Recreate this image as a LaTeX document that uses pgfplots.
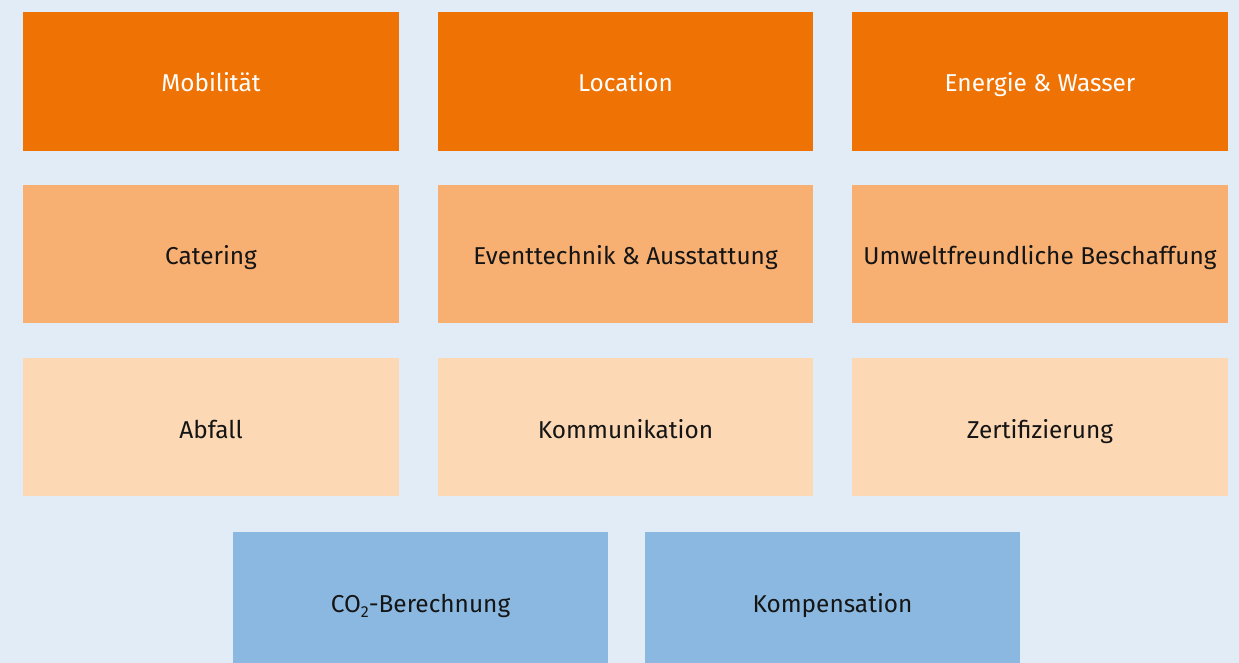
\documentclass[border=0pt]{standalone}
\usepackage{fontspec}
\setmainfont{Fira Sans}
\usepackage{pgfplots}
\pgfplotsset{compat=1.18}
\definecolor{bgblue}{HTML}{E2ECF7}
\definecolor{orA}{HTML}{EF7304}
\definecolor{orB}{HTML}{F7AF72}
\definecolor{orC}{HTML}{FCD8B5}
\definecolor{blA}{HTML}{8BB8E0}
\definecolor{txt}{HTML}{151515}

\begin{document}
\begin{tikzpicture}
\begin{axis}[
  scale only axis, width=619.5pt, height=331.5pt,
  xmin=0, xmax=1239, ymin=0, ymax=663, y dir=reverse,
  enlargelimits=false, hide axis, clip=true,
  every axis plot/.append style={draw=none},
]
% background
\addplot[fill=bgblue] coordinates {(0,0) (1239,0) (1239,663) (0,663)} -- cycle;
% row 1
\addplot[fill=orA] coordinates {(23,12) (399,12) (399,151) (23,151)} -- cycle;
\addplot[fill=orA] coordinates {(438,12) (813,12) (813,151) (438,151)} -- cycle;
\addplot[fill=orA] coordinates {(852,12) (1228,12) (1228,151) (852,151)} -- cycle;
% row 2
\addplot[fill=orB] coordinates {(23,185) (399,185) (399,323) (23,323)} -- cycle;
\addplot[fill=orB] coordinates {(438,185) (813,185) (813,323) (438,323)} -- cycle;
\addplot[fill=orB] coordinates {(852,185) (1228,185) (1228,323) (852,323)} -- cycle;
% row 3
\addplot[fill=orC] coordinates {(23,358) (399,358) (399,496) (23,496)} -- cycle;
\addplot[fill=orC] coordinates {(438,358) (813,358) (813,496) (438,496)} -- cycle;
\addplot[fill=orC] coordinates {(852,358) (1228,358) (1228,496) (852,496)} -- cycle;
% row 4
\addplot[fill=blA] coordinates {(233,532) (608,532) (608,663) (233,663)} -- cycle;
\addplot[fill=blA] coordinates {(645,532) (1020,532) (1020,663) (645,663)} -- cycle;

\begin{scope}[every node/.style={font=\fontsize{12.2}{14}\selectfont, anchor=base, inner sep=0pt}]
\node[white] at (axis cs:211,92) {Mobilität};
\node[white] at (axis cs:625.5,92) {Location};
\node[white] at (axis cs:1040,92) {Energie \& Wasser};
\node[txt] at (axis cs:211,265) {Catering};
\node[txt] at (axis cs:625.5,265) {Eventtechnik \& Ausstattung};
\node[txt] at (axis cs:1040,265) {Umweltfreundliche Beschaffung};
\node[txt] at (axis cs:211,439) {Abfall};
\node[txt] at (axis cs:625.5,439) {Kommunikation};
\node[txt] at (axis cs:1040,439) {Zertifizierung};
\node[txt] at (axis cs:420.5,612) {CO\raisebox{-0.45ex}{\fontsize{8}{8}\selectfont 2}-Berechnung};
\node[txt] at (axis cs:832.5,612) {Kompensation};
\end{scope}
\end{axis}
\end{tikzpicture}
\end{document}
